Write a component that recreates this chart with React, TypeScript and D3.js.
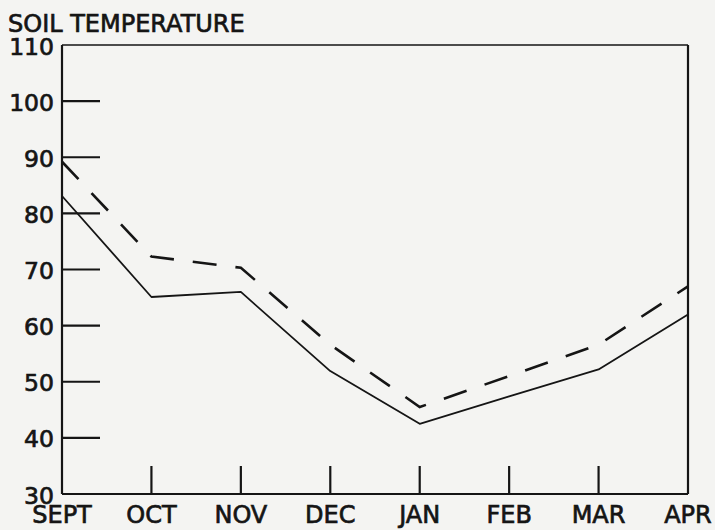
import React from "react";
import * as d3 from "d3";

const months = ["SEPT", "OCT", "NOV", "DEC", "JAN", "FEB", "MAR", "APR"];
const notMulched = [83.1, 65.1, 66.0, 51.9, 42.5, 47.4, 52.2, 62.0];
const mulched = [89.2, 72.3, 70.3, 56.6, 45.5, 51.0, 56.6, 67.0];
const yTicks = [30, 40, 50, 60, 70, 80, 90, 100, 110];

const W = 715;
const H = 530;
const ink = "#151515";
const font = "'DejaVu Sans', sans-serif";

export default function App() {
  const x = d3.scalePoint<string>().domain(months).range([62, 688]);
  const y = d3.scaleLinear().domain([30, 110]).range([494, 45]);
  const line = d3
    .line<number>()
    .x((_, i) => x(months[i]) as number)
    .y((d) => y(d));

  const left = x(months[0]) as number;
  const right = x(months[months.length - 1]) as number;
  const top = y(110);
  const bottom = y(30);
  const textStroke = { stroke: ink, strokeWidth: 0.7 };

  return (
    <svg
      width={W}
      height={H}
      style={{ position: "absolute", left: 0, top: 0, display: "block" }}
      fontFamily={font}
    >
      <rect x={0} y={0} width={W} height={H} fill="#f4f4f2" />
      <text x={8} y={32} fontSize={24} fill={ink} {...textStroke}>
        SOIL TEMPERATURE
      </text>

      {/* frame */}
      <line x1={left} y1={top} x2={right} y2={top} stroke={ink} strokeWidth={1.6} />
      <line x1={left} y1={top} x2={left} y2={bottom} stroke={ink} strokeWidth={2.2} />
      <line x1={right} y1={top} x2={right} y2={bottom} stroke={ink} strokeWidth={2.2} />
      <line x1={left} y1={bottom} x2={right} y2={bottom} stroke={ink} strokeWidth={2.2} />

      {/* y ticks */}
      {yTicks.map((t) => (
        <g key={t}>
          {t > 30 && t < 110 && (
            <line x1={left} y1={y(t)} x2={left + 38} y2={y(t)} stroke={ink} strokeWidth={2.2} />
          )}
          <text
            x={54}
            y={y(t) + 9.5}
            fontSize={23.5}
            textAnchor="end"
            fill={ink}
            {...textStroke}
          >
            {t}
          </text>
        </g>
      ))}

      {/* x ticks */}
      {months.map((m, i) => (
        <g key={m}>
          {i > 0 && i < months.length - 1 && (
            <line
              x1={x(m) as number}
              y1={bottom}
              x2={x(m) as number}
              y2={bottom - 28}
              stroke={ink}
              strokeWidth={2.2}
            />
          )}
          <text
            x={x(m) as number}
            y={523}
            fontSize={24}
            textAnchor="middle"
            fill={ink}
            {...textStroke}
          >
            {m}
          </text>
        </g>
      ))}

      {/* series */}
      <path d={line(notMulched) || ""} fill="none" stroke={ink} strokeWidth={1.8} strokeLinejoin="round" />
      <path
        d={line(mulched) || ""}
        fill="none"
        stroke={ink}
        strokeWidth={2.6}
        strokeDasharray="24 19"
      />
    </svg>
  );
}
